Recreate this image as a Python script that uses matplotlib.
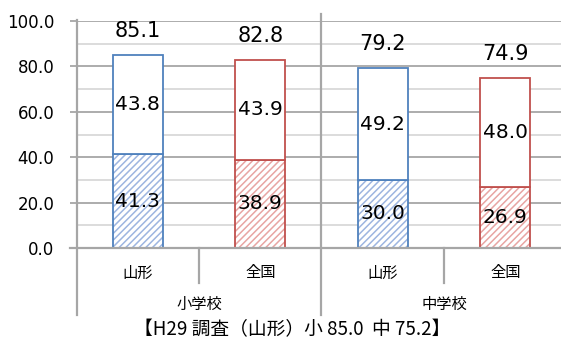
import matplotlib
matplotlib.use('Agg')
import matplotlib.pyplot as plt
from matplotlib.lines import Line2D
import numpy as np

# Scores: hatched lower part, plain upper part, and the stacked total
categories = ['山形', '全国', '山形', '全国']
groups = ['小学校', '中学校']
lower = [41.3, 38.9, 30.0, 26.9]
upper = [43.8, 43.9, 49.2, 48.0]
totals = [85.1, 82.8, 79.2, 74.9]
footer = '【H29 調査（山形）小 85.0  中 75.2】'

W, H = 561, 344
CJK = ['Noto Sans CJK JP', 'DejaVu Sans']
NUM = ['DejaVu Sans']

edge_colors = ['#4F81BD', '#C0504D', '#4F81BD', '#C0504D']
hatch_colors = ['#9DB5E0', '#E8A5A3', '#9DB5E0', '#E8A5A3']
grid_major = '#a6a6a6'
grid_minor = '#d9d9d9'

plt.rcParams['hatch.linewidth'] = 1.1

fig = plt.figure(figsize=(W / 100, H / 100), dpi=100)
ax_left, ax_right = 76.5 / W, 566.5 / W
ax_top, ax_bot = 1 - 21 / H, 1 - 248 / H
ax = fig.add_axes([ax_left, ax_bot, ax_right - ax_left, ax_top - ax_bot])

x = np.arange(len(categories))
width = 0.41

# Gridlines: major every 20, minor every 10
for v in range(10, 101, 10):
    ax.axhline(v, color=grid_major if v % 20 == 0 else grid_minor,
               lw=1.3, zorder=0)

# Hatched lower segment, then outlines drawn on top
ax.bar(x, lower, width, color='white', edgecolor=hatch_colors, hatch='/////',
       linewidth=0, zorder=2)
ax.bar(x, lower, width, color='none', edgecolor=edge_colors, linewidth=1.3, zorder=3)
ax.bar(x, upper, width, bottom=lower, color='white', edgecolor=edge_colors,
       linewidth=1.3, zorder=3)

for xi, lo, up, tot in zip(x, lower, upper, totals):
    ax.text(xi, lo / 2, f'{lo:.1f}', ha='center', va='center',
            fontsize=14.5, family=NUM, zorder=4)
    ax.text(xi, lo + up / 2, f'{up:.1f}', ha='center', va='center',
            fontsize=14.5, family=NUM, zorder=4)
    ax.text(xi, tot + 10.5, f'{tot:.1f}', ha='center', va='center',
            fontsize=15, family=NUM, zorder=4)

ax.set_xlim(-0.5, len(categories) - 0.5)
ax.set_ylim(0, 100)
ax.set_yticks(range(0, 101, 20))
ax.set_yticklabels([f'{v:.1f}' for v in range(0, 101, 20)], fontsize=12, family=NUM)
ax.tick_params(axis='y', length=5, width=1.3, color=grid_major, pad=11)
ax.set_xticks([])
for s in ax.spines.values():
    s.set_visible(False)


def fx(px):
    return px / W


def fy(py):
    return 1 - py / H


def vline(px, top, bottom):
    fig.add_artist(Line2D([fx(px), fx(px)], [fy(top), fy(bottom)],
                          color=grid_major, lw=1.6))


# Axis frame and category separators below the plot
fig.add_artist(Line2D([fx(70), 1], [fy(248), fy(248)], color=grid_major, lw=1.6))
vline(76.5, 20, 315)
vline(321, 14, 315)
vline(199, 248, 283)
vline(444, 248, 283)

cat_w = (566.5 - 76.5) / len(categories)
for i, c in enumerate(categories):
    fig.text(fx(76.5 + cat_w * (i + 0.5)), fy(273), c, ha='center', va='center',
             fontsize=11, family=CJK)
for i, g in enumerate(groups):
    fig.text(fx(76.5 + cat_w * (2 * i + 1)), fy(304), g, ha='center', va='center',
             fontsize=11, family=CJK)

fig.text(fx(292), fy(330), footer, ha='center', va='center', fontsize=13.5, family=CJK)

fig.savefig('out.png', dpi=100)
